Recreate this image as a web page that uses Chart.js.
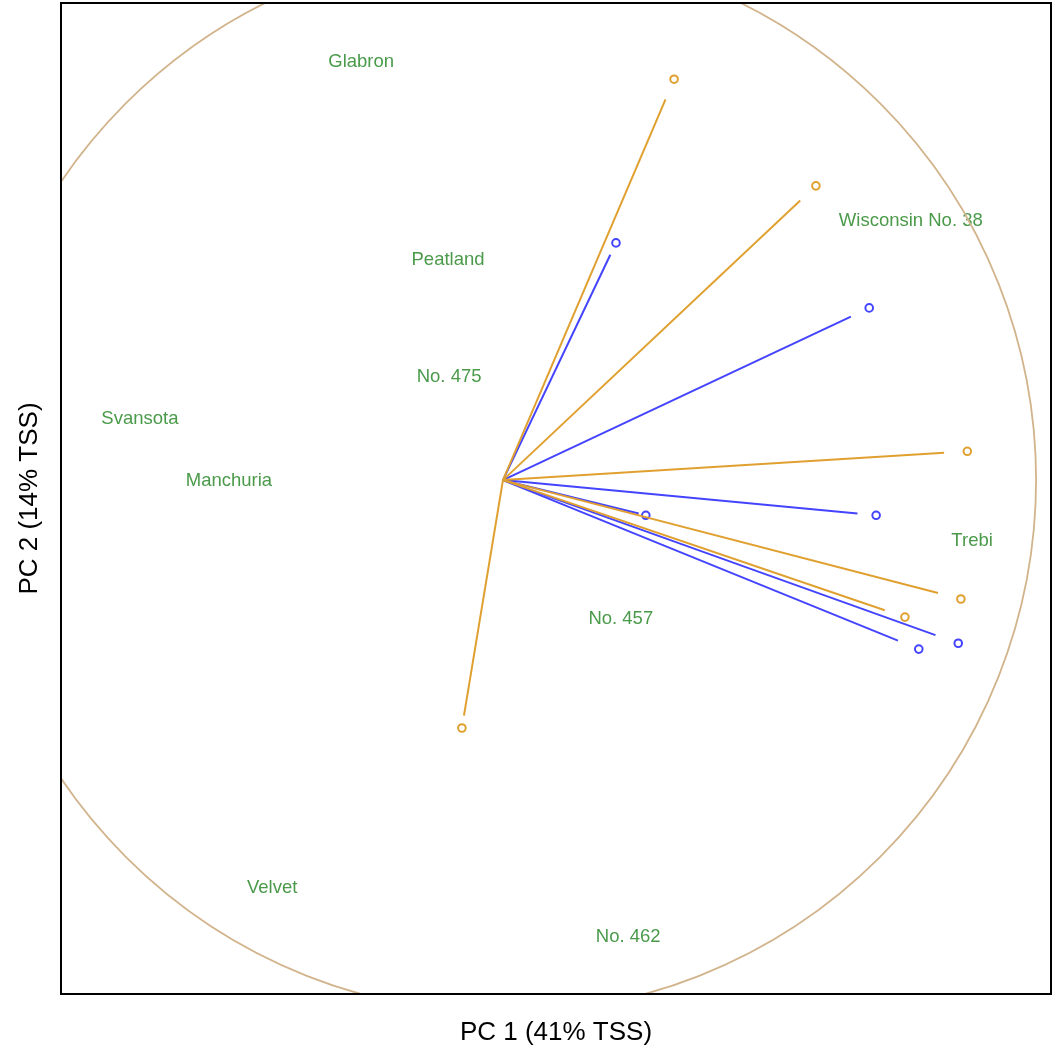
<!DOCTYPE html>
<html>
<head>
<meta charset="utf-8">
<script src="https://cdn.jsdelivr.net/npm/chart.js@4.4.1/dist/chart.umd.min.js"></script>
<style>
  html, body { margin: 0; padding: 0; background: #fff; }
  #wrap { width: 1055px; height: 1055px; }
</style>
</head>
<body>
<div id="wrap"><canvas id="biplot"></canvas></div>
<script>
// Loadings (PC1, PC2) for the two groups of variables
const orangeX = [0.321, 0.587, 0.871, 0.859, 0.754, -0.077];
const orangeY = [0.752, 0.552, 0.054, -0.223, -0.257, -0.465];
const blueX = [0.212, 0.687, 0.700, 0.268, 0.854, 0.780];
const blueY = [0.445, 0.323, -0.066, -0.066, -0.306, -0.317];

// Variety scores, drawn as text
const varieties = ['Glabron', 'Peatland', 'No. 475', 'Svansota', 'Manchuria',
  'Wisconsin No. 38', 'Trebi', 'No. 457', 'Velvet', 'No. 462'];
const scoreX = [-0.266, -0.103, -0.101, -0.681, -0.514, 0.765, 0.880, 0.221, -0.433, 0.235];
const scoreY = [0.784, 0.413, 0.193, 0.114, -0.002, 0.486, -0.114, -0.261, -0.765, -0.856];

const xTitle = 'PC 1 (41% TSS)';
const yTitle = 'PC 2 (14% TSS)';

const ORANGE = '#e0a030';
const BLUE = '#4444ff';
const GREEN = '#4a9a4a';
const TAN = '#d2b48c';
const SHRINK = 0.95; // arrows stop a little short of their marker

const datasets = [];
function addVectors(xs, ys, color) {
  xs.forEach((x, i) => {
    datasets.push({
      type: 'line',
      data: [{x: 0, y: 0}, {x: x * SHRINK, y: ys[i] * SHRINK}],
      borderColor: color,
      borderWidth: 2,
      pointRadius: 0,
      fill: false
    });
  });
  datasets.push({
    type: 'scatter',
    data: xs.map((x, i) => ({x: x, y: ys[i]})),
    borderColor: color,
    backgroundColor: 'rgba(0,0,0,0)',
    borderWidth: 2,
    pointRadius: 3.8
  });
}
addVectors(orangeX, orangeY, ORANGE);
addVectors(blueX, blueY, BLUE);

// labels, unit circle, frame and axis titles
const decor = {
  id: 'decor',
  beforeDatasetsDraw(chart) {
    const {ctx, scales: {x, y}} = chart;
    ctx.save();
    ctx.fillStyle = GREEN;
    ctx.font = '18.5px "Liberation Sans", Arial, sans-serif';
    ctx.textAlign = 'center';
    ctx.textBaseline = 'middle';
    varieties.forEach((name, i) => {
      ctx.fillText(name, x.getPixelForValue(scoreX[i]), y.getPixelForValue(scoreY[i]));
    });
    ctx.restore();
  },
  afterDatasetsDraw(chart) {
    const {ctx, chartArea: a, scales: {x, y}} = chart;
    ctx.save();
    ctx.beginPath();
    ctx.rect(a.left, a.top, a.right - a.left, a.bottom - a.top);
    ctx.clip();
    const cx = x.getPixelForValue(0), cy = y.getPixelForValue(0);
    const r = x.getPixelForValue(1) - cx;
    ctx.beginPath();
    ctx.arc(cx, cy, r, 0, Math.PI * 2);
    ctx.strokeStyle = TAN;
    ctx.lineWidth = 1.8;
    ctx.stroke();
    ctx.restore();

    ctx.save();
    ctx.strokeStyle = '#000';
    ctx.lineWidth = 2;
    ctx.strokeRect(a.left, a.top, a.right - a.left, a.bottom - a.top);
    ctx.fillStyle = '#000';
    ctx.font = '26px "Liberation Sans", Arial, sans-serif';
    ctx.textAlign = 'center';
    ctx.textBaseline = 'middle';
    ctx.fillText(xTitle, (a.left + a.right) / 2, a.bottom + 39);
    ctx.translate(a.left - 31, (a.top + a.bottom) / 2);
    ctx.rotate(-Math.PI / 2);
    ctx.fillText(yTitle, 0, 0);
    ctx.restore();
  }
};

new Chart(document.getElementById('biplot'), {
  type: 'scatter',
  data: {datasets: datasets},
  options: {
    responsive: true,
    maintainAspectRatio: false,
    animation: false,
    layout: {autoPadding: false, padding: {left: 61, top: 3, right: 4, bottom: 61}},
    plugins: {legend: {display: false}, tooltip: {enabled: false}},
    scales: {
      x: {type: 'linear', display: false, min: -0.829, max: 1.028},
      y: {type: 'linear', display: false, min: -0.964, max: 0.895}
    }
  },
  plugins: [decor]
});
</script>
</body>
</html>
